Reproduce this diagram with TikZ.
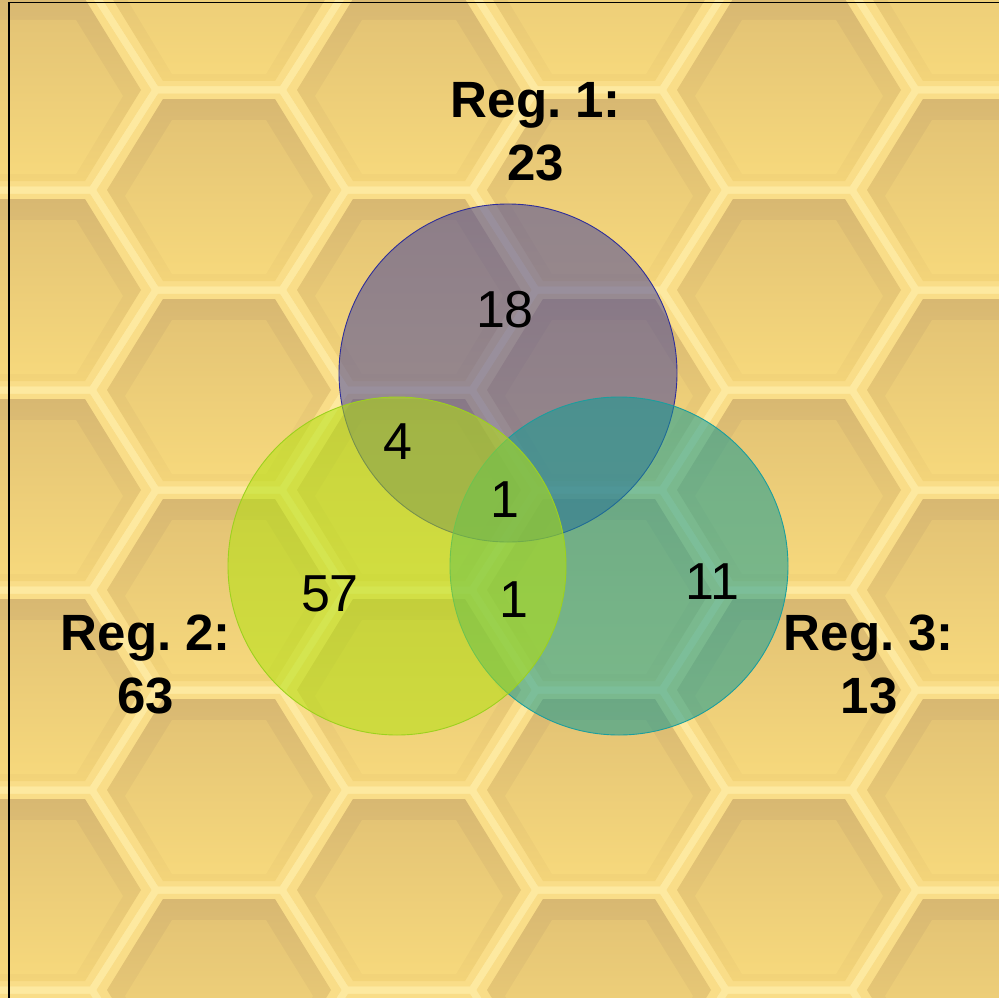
\documentclass[tikz,border=0pt]{standalone}
\usepackage{fontspec}
\setmainfont{Liberation Sans}

\definecolor{wallyel}{HTML}{F9DD88}
\definecolor{wallhi}{HTML}{FDE9A0}
\definecolor{celllo}{HTML}{D8B872}
\definecolor{cellhi}{HTML}{F3D479}
\definecolor{coreLo}{HTML}{E4C475}
\definecolor{coreHi}{HTML}{F6D87C}
\definecolor{regone}{HTML}{484699}
\definecolor{regtwo}{HTML}{B3E20F}
\definecolor{regthree}{HTML}{139C94}
\definecolor{edgeone}{HTML}{2E2E9A}
\definecolor{edgetwo}{HTML}{9DD11E}
\definecolor{edgethree}{HTML}{1B9E9E}

\begin{document}
\begin{tikzpicture}[x=1pt,y=-1pt,
    setcirc/.style={line width=0.9pt, fill opacity=0.55},
    reglabel/.style={font=\fontsize{51}{63}\selectfont\bfseries\frenchspacing, align=center, anchor=base},
    regnum/.style={font=\fontsize{52}{60}\selectfont, anchor=base}]
    \useasboundingbox (0,0) rectangle (999,998);
    % Honeycomb background
    \begin{scope}
      \clip (0,0) rectangle (999,998);
      \fill[wallyel] (0,0) rectangle (999,998);
      \foreach \i in {0,...,5}{
        \foreach \k in {-1,...,5}{
          \pgfmathsetmacro{\cx}{29+190*\i}
          \pgfmathsetmacro{\cy}{(isodd(\i) ? 190 : 90)+200*\k}
          \draw[wallhi, line width=7pt, shift={(\cx,\cy)}]
            (127,0) -- (63,-100) -- (-63,-100) -- (-127,0) -- (-63,100) -- (63,100) -- cycle;
          \shade[top color=celllo, bottom color=cellhi, shift={(\cx,\cy)}]
            (112,0) -- (56,-91) -- (-56,-91) -- (-112,0) -- (-56,91) -- (56,91) -- cycle;
          \shade[top color=coreLo, bottom color=coreHi, shift={(\cx,\cy)}]
            (94,6) -- (47,-70) -- (-47,-70) -- (-94,6) -- (-47,84) -- (47,84) -- cycle;
        }
      }
    \end{scope}
    % Frame
    \draw[line width=1.3pt] (9,998) -- (9,2.5) -- (999,2.5);
    % Sets
    \draw[setcirc, fill=regone, draw=edgeone] (508,373) circle[radius=169];
    \draw[setcirc, fill=regthree, draw=edgethree] (619,566) circle[radius=169];
    \draw[setcirc, fill=regtwo, draw=edgetwo] (397,566) circle[radius=169];
    % Set names (anchored at the baseline of the count line)
    \node[reglabel] (lab1) at (536,180) {Reg. 1:\\23};
    \node[reglabel] (lab2) at (146,713) {Reg. 2:\\63};
    \node[reglabel] (lab3) at (869,713) {Reg. 3:\\13};
    % Counts
    \node[regnum] (only1) at (505,327) {18};
    \node[regnum] (n12) at (398,459) {4};
    \node[regnum] (n123) at (505,517) {1};
    \node[regnum] (only2) at (330,611) {57};
    \node[regnum] (n23) at (514,617) {1};
    \node[regnum] (only3) at (712,599) {11};
\end{tikzpicture}
\end{document}
